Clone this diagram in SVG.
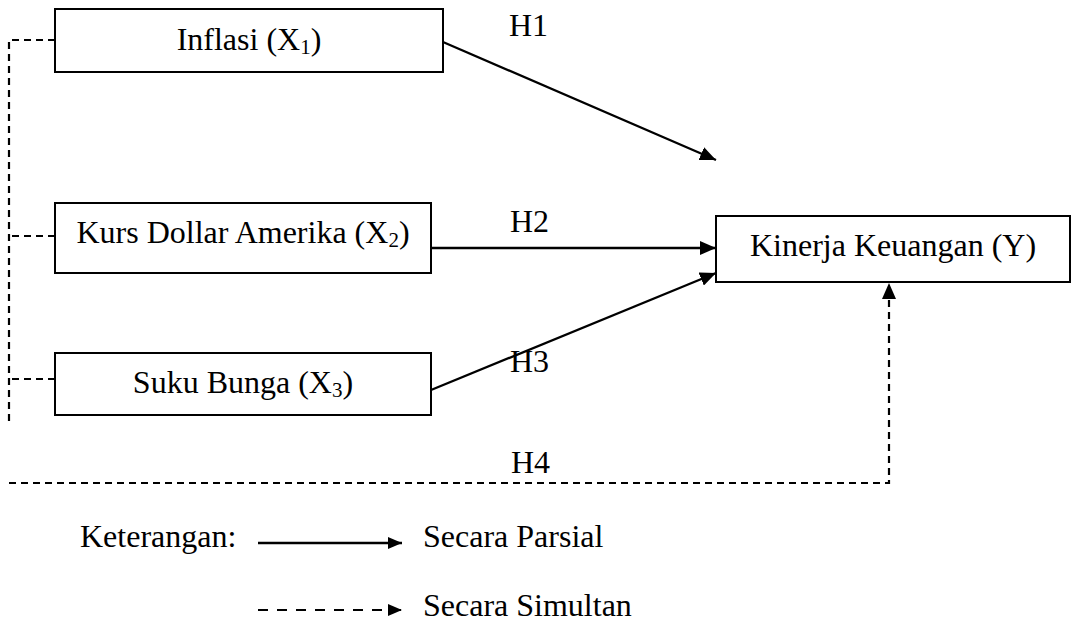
<svg xmlns="http://www.w3.org/2000/svg" width="1071" height="625" viewBox="0 0 1071 625">
<style>
text{font-family:"Liberation Serif","Times New Roman",serif;font-size:32px;fill:#000}
.box{fill:#fff;stroke:#000;stroke-width:2}
.ln{fill:none;stroke:#000;stroke-width:2.3}
.ds{fill:none;stroke:#000;stroke-width:2.2;stroke-dasharray:7 5}
.dsl{fill:none;stroke:#000;stroke-width:2.2;stroke-dasharray:10 9}
.sub{font-size:21px}
</style>
<defs>
<marker id="ah" viewBox="0 0 14 12" refX="14" refY="6" markerWidth="14" markerHeight="12" markerUnits="userSpaceOnUse" orient="auto">
<path d="M0,0 L14,6 L0,12 z" fill="#000"/>
</marker>
<marker id="ahb" viewBox="0 0 16 14" refX="16" refY="7" markerWidth="16" markerHeight="14" markerUnits="userSpaceOnUse" orient="auto">
<path d="M0,0 L16,7 L0,14 z" fill="#000"/>
</marker>
</defs>
<rect width="1071" height="625" fill="#fff"/>
<g id="connectors">
<path class="ln" d="M443,42 L716,160" marker-end="url(#ahb)"/>
<path class="ln" d="M431,248 L716,248" marker-end="url(#ahb)"/>
<path class="ln" d="M431,390 L716,273" marker-end="url(#ahb)"/>
<path class="ds" d="M55,40 L9,40 L9,425"/>
<path class="ds" d="M55,236 L9,236"/>
<path class="ds" d="M55,379 L9,379"/>
<path class="ds" d="M9,483 L889,483 L889,283" marker-end="url(#ahb)"/>
<text x="509" y="36">H1</text>
<text x="510" y="232">H2</text>
<text x="510" y="372">H3</text>
<text x="511" y="473">H4</text>
</g>
<g id="node-x1">
<rect class="box" x="55" y="9" width="388" height="63"/>
<text x="249" y="50" text-anchor="middle">Inflasi (X<tspan class="sub" dy="4">1</tspan><tspan dy="-4">)</tspan></text>
</g>
<g id="node-x2">
<rect class="box" x="55" y="203" width="376" height="70"/>
<text x="243" y="243" text-anchor="middle">Kurs Dollar Amerika (X<tspan class="sub" dy="4">2</tspan><tspan dy="-4">)</tspan></text>
</g>
<g id="node-x3">
<rect class="box" x="55" y="353" width="376" height="62"/>
<text x="243" y="393" text-anchor="middle">Suku Bunga (X<tspan class="sub" dy="4">3</tspan><tspan dy="-4">)</tspan></text>
</g>
<g id="node-y">
<rect class="box" x="716" y="216" width="354" height="66"/>
<text x="893" y="256" text-anchor="middle">Kinerja Keuangan (Y)</text>
</g>
<g id="legend">
<text x="80" y="547">Keterangan:</text>
<path class="ln" d="M258,543 L402,543" marker-end="url(#ah)"/>
<text x="423" y="547">Secara Parsial</text>
<path class="dsl" d="M258,610 L402,610" marker-end="url(#ah)"/>
<text x="423" y="616">Secara Simultan</text>
</g>
</svg>
